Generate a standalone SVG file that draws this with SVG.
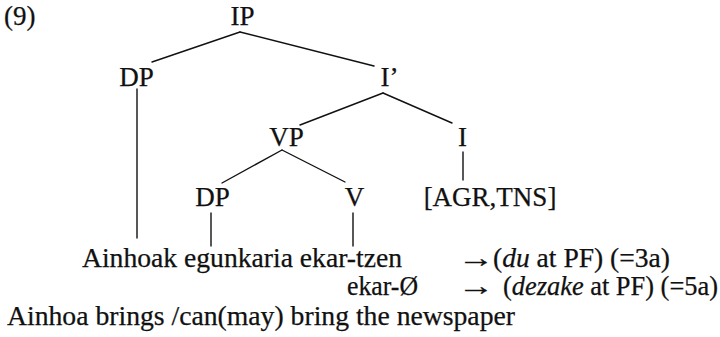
<svg xmlns="http://www.w3.org/2000/svg" width="720" height="337" viewBox="0 0 720 337">
<style>
.t{font-family:'Liberation Serif','Times New Roman',Times,serif;font-size:27px;fill:#111;stroke:#111;stroke-width:0.25}
.n{text-anchor:middle}
.it{font-style:italic}
#edges line{stroke:#111;stroke-width:1.4;stroke-linecap:round}
</style>
<rect width="720" height="337" fill="#fff"/>
<g class="t">
<text id="label9" x="4" y="25">(9)</text>
</g>
<g id="edges">
<line x1="240" y1="32" x2="152" y2="62"/>
<line x1="240" y1="32" x2="374" y2="66"/>
<line x1="137" y1="89" x2="137" y2="238"/>
<line x1="383" y1="93" x2="300" y2="125"/>
<line x1="383" y1="93" x2="452" y2="123"/>
<line x1="463" y1="152" x2="463" y2="180"/>
<line x1="282" y1="150" x2="222" y2="183"/>
<line x1="282" y1="150" x2="345" y2="182"/>
<line x1="211" y1="213" x2="211" y2="246"/>
<line x1="353" y1="213" x2="353" y2="246"/>
</g>
<g class="t">
<g id="IP"><text class="n" x="242.5" y="25">IP</text></g>
<g id="DP1"><text class="n" x="136.5" y="86">DP</text></g>
<g id="Ibar"><text class="n" x="389.5" y="86">I’</text></g>
<g id="VP"><text class="n" x="286.5" y="146">VP</text></g>
<g id="I"><text class="n" x="462.5" y="146">I</text></g>
<g id="DP2"><text class="n" x="212.5" y="206">DP</text></g>
<g id="V"><text class="n" x="354.5" y="206">V</text></g>
<g id="AGRTNS"><text class="n" x="490" y="206">[AGR,TNS]</text></g>
<g id="sentence">
<text x="82" y="267" textLength="320" lengthAdjust="spacingAndGlyphs">Ainhoak egunkaria ekar-tzen</text>
<text transform="translate(458,267) scale(1.35,1)" x="0" y="0">→</text>
<text x="493" y="267" textLength="177" lengthAdjust="spacingAndGlyphs">(<tspan class="it">du</tspan> at PF) (=3a)</text>
<text x="347" y="295" textLength="71" lengthAdjust="spacingAndGlyphs">ekar-Ø</text>
<text transform="translate(458,295) scale(1.35,1)" x="0" y="0">→</text>
<text x="503" y="295" textLength="215" lengthAdjust="spacingAndGlyphs">(<tspan class="it">dezake</tspan> at PF) (=5a)</text>
<text x="7" y="325" textLength="508" lengthAdjust="spacingAndGlyphs">Ainhoa brings /can(may) bring the newspaper</text>
</g>
</g>
</svg>
